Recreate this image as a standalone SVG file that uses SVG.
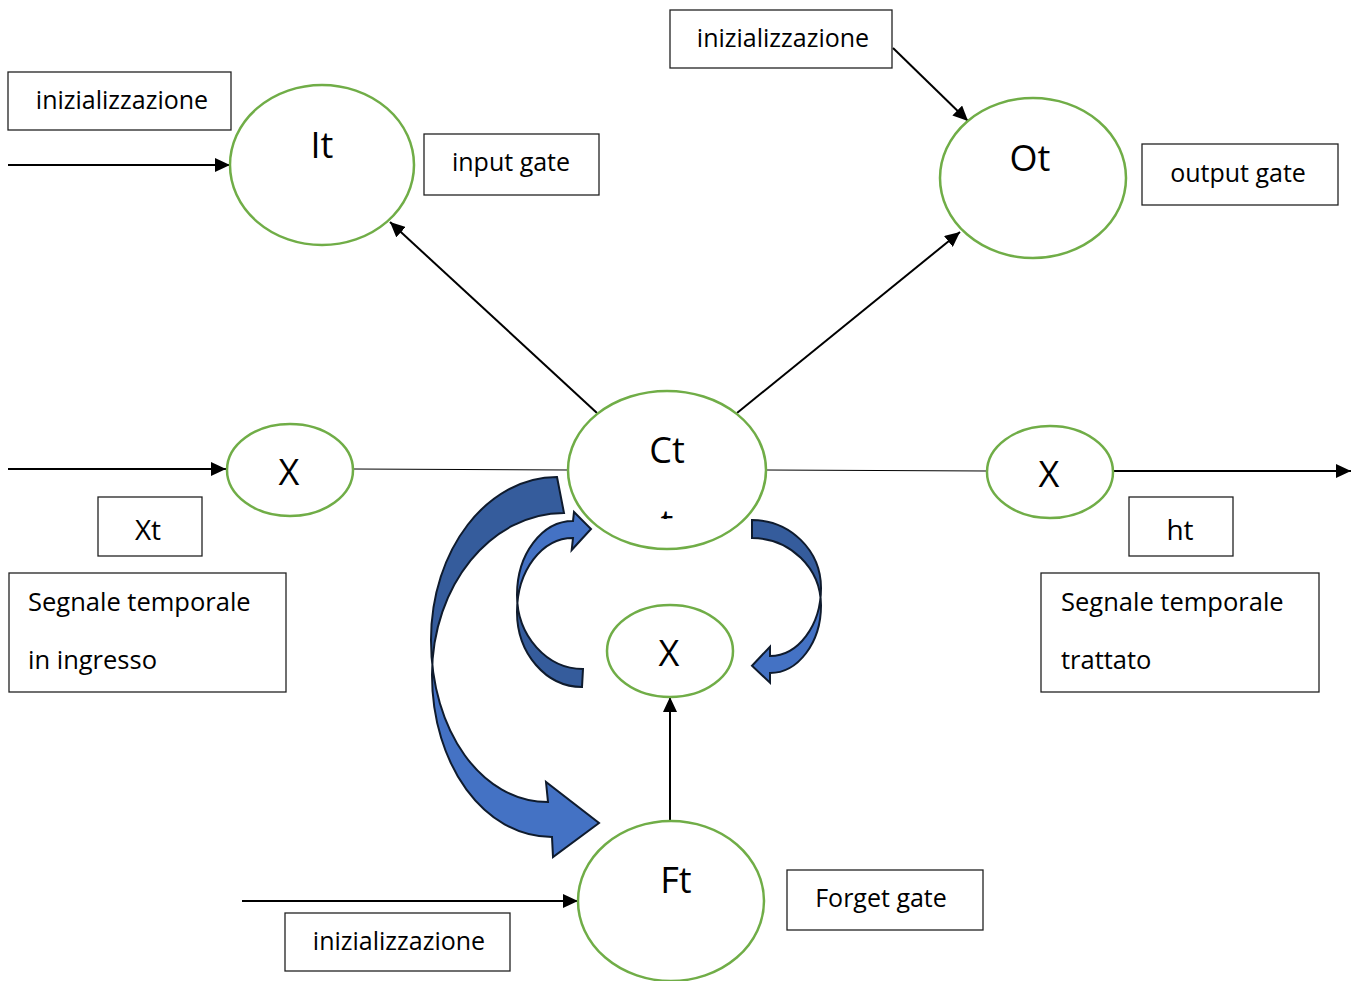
<svg xmlns="http://www.w3.org/2000/svg" width="1362" height="981" viewBox="0 0 1362 981">
<defs>
<style>
.box{fill:#fff;stroke:#222;stroke-width:1.3}
.node{fill:#fff;stroke:#70AD47;stroke-width:2.5}
.lbl{font-family:"Open Sans","Liberation Sans",sans-serif;font-size:25px;fill:#000;text-anchor:middle}
.lbll{font-family:"Open Sans","Liberation Sans",sans-serif;font-size:25.5px;fill:#000}
.big{font-family:"Open Sans","Liberation Sans",sans-serif;font-size:36px;fill:#000;text-anchor:middle}
.mid{font-family:"Open Sans","Liberation Sans",sans-serif;font-size:28px;fill:#000;text-anchor:middle}
.con{stroke:#000;stroke-width:2;fill:none}
.thin{stroke:#000;stroke-width:1;fill:none}
.blk{stroke:#0F1B2D;stroke-width:2;stroke-linejoin:miter}
</style>
<marker id="ah" markerUnits="userSpaceOnUse" markerWidth="16" markerHeight="14" refX="15" refY="7" orient="auto">
<path d="M0,0 L15,7 L0,14 z" fill="#000"/>
</marker>
<clipPath id="bigTop"><rect x="0" y="0" width="1362" height="665"/></clipPath>
<clipPath id="bigBot"><rect x="0" y="665" width="1362" height="316"/></clipPath>
<clipPath id="lTop"><rect x="0" y="0" width="1362" height="603.4"/></clipPath>
<clipPath id="lBot"><rect x="0" y="603.4" width="1362" height="378"/></clipPath>
<clipPath id="rTop"><rect x="0" y="0" width="1362" height="596.8"/></clipPath>
<clipPath id="rBot"><rect x="0" y="596.8" width="1362" height="385"/></clipPath>
<clipPath id="tfrag"><rect x="640" y="500" width="60" height="19"/></clipPath>
<path id="bigArrow" d="M557,477 C487,477 431,550 431,640 C431,730 481,802 548,802 L546,782 L599,823 L553,857 L552,837 C484,837 432,764.5 432,675 C432,585.5 491,513 564,513 Z"/>
<path id="leftArrow" d="M573,521 C542,521 517,554 517,595 C517,636 547,669 583,669 L582,687 C546,687 517,653.4 517,612 C517,570.6 542,538 573,538 L571.7,550 L591,529 L574,512 Z"/>
<path id="rightArrow" d="M752,520 C790,520 821,550.4 821,588 C821,625.6 798,656 770,656 L770,646.7 L752,665.7 L770,682.7 L770,673 C798,673 821,642.8 821,605.5 C821,568.2 790,538 752,538 Z"/>
</defs>
<rect width="1362" height="981" fill="#fff"/>

<g id="connectors">
<line class="con" x1="8" y1="165" x2="230" y2="165" marker-end="url(#ah)"/>
<line class="con" x1="597" y1="413" x2="390" y2="222" marker-end="url(#ah)"/>
<line class="con" x1="737" y1="413" x2="960" y2="232" marker-end="url(#ah)"/>
<line class="con" x1="893" y1="48" x2="968" y2="121" marker-end="url(#ah)"/>
<line class="con" x1="8" y1="469" x2="226" y2="469" marker-end="url(#ah)"/>
<line class="thin" x1="353" y1="469" x2="569" y2="470"/>
<line class="thin" x1="766" y1="470" x2="987" y2="471"/>
<line class="con" x1="1113" y1="471" x2="1351" y2="471" marker-end="url(#ah)"/>
<line class="con" x1="670" y1="821" x2="670" y2="697" marker-end="url(#ah)"/>
<line class="con" x1="242" y1="901" x2="578" y2="901" marker-end="url(#ah)"/>
</g>

<g id="curved-arrows">
<use href="#bigArrow" fill="#355C9C" clip-path="url(#bigTop)"/>
<use href="#bigArrow" fill="#4472C4" clip-path="url(#bigBot)"/>
<use href="#bigArrow" fill="none" class="blk"/>
<use href="#leftArrow" fill="#4472C4" clip-path="url(#lTop)"/>
<use href="#leftArrow" fill="#355C9C" clip-path="url(#lBot)"/>
<use href="#leftArrow" fill="none" class="blk"/>
<use href="#rightArrow" fill="#355C9C" clip-path="url(#rTop)"/>
<use href="#rightArrow" fill="#4472C4" clip-path="url(#rBot)"/>
<use href="#rightArrow" fill="none" class="blk"/>
</g>

<g id="box-init-top-left"><rect class="box" x="8" y="72" width="223" height="58"/><text class="lbl" x="122" y="109">inizializzazione</text></g>
<g id="node-It"><ellipse class="node" cx="322" cy="165" rx="92" ry="80"/><text class="big" x="322" y="158">It</text></g>
<g id="box-input-gate"><rect class="box" x="424" y="134" width="175" height="61"/><text class="lbl" x="511" y="171">input gate</text></g>

<g id="box-init-top"><rect class="box" x="670" y="10" width="222" height="58"/><text class="lbl" x="783" y="47">inizializzazione</text></g>
<g id="node-Ot"><ellipse class="node" cx="1033" cy="178" rx="93" ry="80"/><text class="big" x="1030" y="171">Ot</text></g>
<g id="box-output-gate"><rect class="box" x="1142" y="144" width="196" height="61"/><text class="lbl" x="1238" y="182">output gate</text></g>

<g id="node-X-left"><ellipse class="node" cx="290" cy="470" rx="63" ry="46"/><text class="big" x="289" y="485">X</text></g>
<g id="box-Xt"><rect class="box" x="98" y="497" width="104" height="59"/><text class="mid" x="148" y="540">Xt</text></g>
<g id="box-segnale-in"><rect class="box" x="9" y="573" width="277" height="119"/><text class="lbll" x="28" y="611">Segnale temporale</text><text class="lbll" x="28" y="669">in ingresso</text></g>

<g id="node-Ct"><ellipse class="node" cx="667" cy="470" rx="99" ry="79"/><text class="big" x="667" y="463">Ct</text><text class="big" x="667" y="536" clip-path="url(#tfrag)">t</text></g>

<g id="node-X-right"><ellipse class="node" cx="1050" cy="472" rx="63" ry="46"/><text class="big" x="1049" y="487">X</text></g>
<g id="box-ht"><rect class="box" x="1129" y="497" width="104" height="59"/><text class="mid" x="1180" y="540">ht</text></g>
<g id="box-segnale-out"><rect class="box" x="1041" y="573" width="278" height="119"/><text class="lbll" x="1061" y="611">Segnale temporale</text><text class="lbll" x="1061" y="669">trattato</text></g>

<g id="node-X-mid"><ellipse class="node" cx="670" cy="651" rx="63" ry="46"/><text class="big" x="669" y="666">X</text></g>

<g id="node-Ft"><ellipse class="node" cx="671" cy="901" rx="93" ry="80"/><text class="big" x="676" y="893">Ft</text></g>
<g id="box-forget-gate"><rect class="box" x="787" y="870" width="196" height="60"/><text class="lbl" x="881" y="907">Forget gate</text></g>
<g id="box-init-bottom"><rect class="box" x="285" y="913" width="225" height="58"/><text class="lbl" x="399" y="950">inizializzazione</text></g>
</svg>
